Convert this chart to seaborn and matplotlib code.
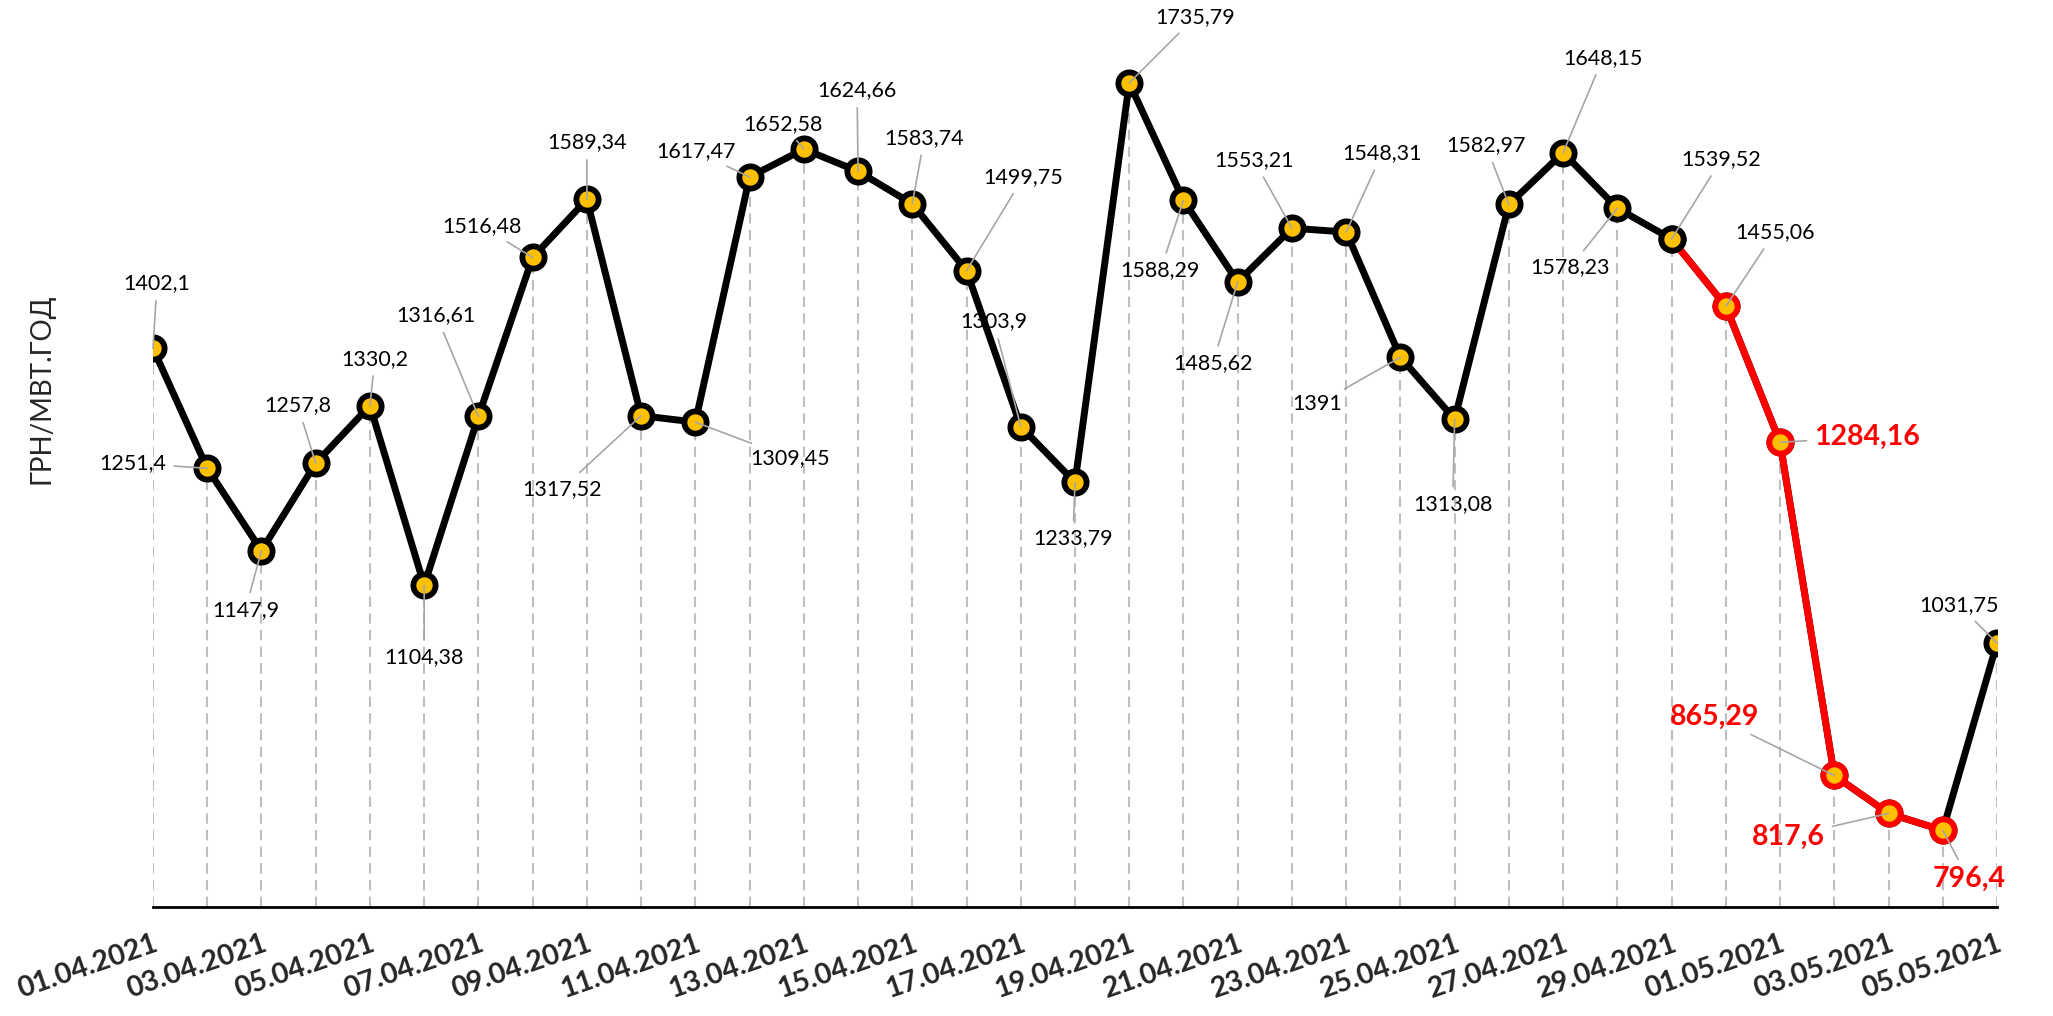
import numpy as np
import pandas as pd
import seaborn as sns
import matplotlib.pyplot as plt

# Ціни РДН, грн/МВт.год
dates = list(pd.date_range('2021-04-01', '2021-05-05').strftime('%d.%m.%Y'))
prices = [1402.1, 1251.4, 1147.9, 1257.8, 1330.2, 1104.38, 1316.61, 1516.48, 1589.34,
          1317.52, 1309.45, 1617.47, 1652.58, 1624.66, 1583.74, 1499.75, 1303.9,
          1233.79, 1735.79, 1588.29, 1485.62, 1553.21, 1548.31, 1391, 1313.08,
          1582.97, 1648.15, 1578.23, 1539.52, 1455.06, 1284.16, 865.29, 817.6,
          796.4, 1031.75]
y_title = 'ГРН/МВТ.ГОД'

# позиції підписів відносно точок (пікселі, вниз = +)
offsets = [(4, -65), (-74, -5), (-16, 59), (-18, -58), (5, -47), (0, 72), (-42, -101),
           (-51, -31), (0, -57), (-79, 73), (95, 36), (-54, -26), (-21, -25), (-1, -81),
           (12, -66), (57, -94), (-27, -105), (-2, 56), (66, -66), (-23, 70), (-25, 81),
           (-38, -68), (36, -79), (-83, 47), (-2, 85), (-23, -59), (40, -95), (-47, 59),
           (50, -80), (49, -74), (87, -5), (-120, -59), (-100, 23), (26, 49), (-38, -38)]

df = pd.DataFrame({'i': np.arange(len(prices)), 'date': dates, 'price': prices})
red_line = df.iloc[28:34]
red_pts = df.iloc[29:34]

sns.set_style('white')
plt.rcParams['font.family'] = ['Lato', 'Open Sans', 'DejaVu Sans']

fig = plt.figure(figsize=(20.53, 10.16), dpi=100)
ax = fig.add_axes([153 / 2053, 1 - 907 / 1016, (1997 - 153) / 2053, 907 / 1016])
ax.set_xlim(0, len(prices) - 1)
ax.set_ylim(700, 1840)

# пунктирні лінії до осі
ax.vlines(df['i'], 700, df['price'], colors='#BFBFBF', linewidth=1.5,
          linestyles=(0, (5, 3)), zorder=1)

mk = dict(marker='o', markersize=16, markerfacecolor='#FFC000', markeredgewidth=4.2)
sns.lineplot(data=df, x='i', y='price', color='black', linewidth=5,
             markeredgecolor='black', ax=ax, zorder=3, **mk)
sns.lineplot(data=red_line, x='i', y='price', color='red', linewidth=5, ax=ax, zorder=4)
sns.lineplot(data=red_pts, x='i', y='price', color='red', linewidth=0,
             markeredgecolor='red', ax=ax, zorder=5, **mk)
# чорний маркер 29.04 поверх червоної лінії
sns.lineplot(data=df.iloc[28:29], x='i', y='price', color='black', linewidth=0,
             markeredgecolor='black', ax=ax, zorder=5, **mk)

for i, (v, (dx, dy)) in enumerate(zip(prices, offsets)):
    txt = f'{v:g}'.replace('.', ',')
    big = 30 <= i <= 33
    ax.annotate(txt, xy=(i, v), xytext=(dx, -dy), textcoords='offset pixels',
                ha='center', va='center',
                fontsize=20.5 if big else 15.5, fontweight='bold' if big else 'normal',
                color='red' if big else 'black', zorder=6,
                arrowprops=dict(arrowstyle='-', color='#A6A6A6', lw=1.2,
                                shrinkA=3, shrinkB=0))

ax.set_xticks(df['i'][::2])
ax.set_xticklabels(df['date'][::2], rotation=19, ha='right', rotation_mode='anchor',
                   fontsize=20.5, fontweight='bold')
ax.tick_params(axis='x', length=0, pad=17)
ax.set_yticks([])
ax.set_xlabel('')
ax.set_ylabel('')
for s in ['top', 'right', 'left']:
    ax.spines[s].set_visible(False)
ax.spines['bottom'].set_linewidth(2)
ax.spines['bottom'].set_color('black')

fig.text(42 / 2053, 1 - 389 / 1016, y_title, rotation=90, ha='center', va='center',
         fontsize=20)

fig.savefig('out.png', dpi=100)
